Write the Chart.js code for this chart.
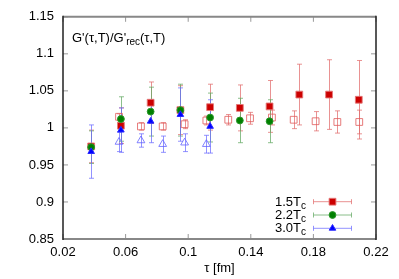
<!DOCTYPE html>
<html>
<head>
<meta charset="utf-8">
<script src="https://cdn.jsdelivr.net/npm/chart.js@4/dist/chart.umd.min.js"></script>
<style>
  html, body { margin: 0; padding: 0; background: #fff; }
</style>
</head>
<body>
<canvas id="chart" width="399" height="279"></canvas>
<script>
// tick values
const xTicks = [0.02, 0.06, 0.1, 0.14, 0.18, 0.22];
const yTicks = [0.85, 0.9, 0.95, 1, 1.05, 1.1, 1.15];

// coarse lattice tau values (filled symbols)
const tauCoarse = [0.038, 0.057, 0.076, 0.095, 0.114, 0.133, 0.152, 0.171, 0.190, 0.209];
// fine lattice tau values (open symbols)
const tauFine = [0.0558, 0.0698, 0.0837, 0.0977, 0.1116, 0.1256, 0.1395, 0.1535, 0.1674, 0.1814, 0.1953, 0.2093];

const ratio15 = [0.975, 1.003, 1.034, 1.024, 1.028, 1.027, 1.029, 1.045, 1.045, 1.038];
const err15 = [0.022, 0.024, 0.028, 0.033, 0.031, 0.031, 0.035, 0.041, 0.047, 0.053];

const ratio22 = [0.974, 1.012, 1.022, 1.024, 1.014, 1.010, 1.009];
const err22 = [0.022, 0.030, 0.033, 0.035, 0.033, 0.030, 0.029];

const ratio30 = [0.968, 0.997, 1.009, 1.018, 1.002];
const err30 = [0.036, 0.030, 0.029, 0.036, 0.036];

const ratio15Fine = [1.015, 1.002, 1.002, 1.005, 1.010, 1.011, 1.013, 1.014, 1.011, 1.009, 1.008, 1.008];
const err15Fine = [0.004, 0.005, 0.005, 0.006, 0.006, 0.007, 0.008, 0.010, 0.012, 0.013, 0.015, 0.016];

const ratio30Fine = [0.981, 0.983, 0.978, 0.980, 0.978];
const err30Fine = [0.013, 0.009, 0.011, 0.012, 0.012];

const FONT = '"Liberation Sans", Arial, sans-serif';

function points(xs, ys) {
  return ys.map((y, i) => ({ x: xs[i], y: y }));
}

const fmt = (v) => String(+Number(v).toFixed(2));

// vertical error bars, drawn under the symbols
const errorBars = {
  id: 'errorBars',
  beforeDatasetsDraw(chart) {
    const ctx = chart.ctx;
    const xs = chart.scales.x;
    const ys = chart.scales.y;
    chart.data.datasets.forEach((ds) => {
      if (!ds.errors) return;
      ctx.save();
      ctx.strokeStyle = ds.errorColor;
      ctx.lineWidth = 1;
      ds.data.forEach((p, j) => {
        const x = Math.round(xs.getPixelForValue(p.x)) + 0.5;
        const lo = ys.getPixelForValue(p.y - ds.errors[j]);
        const hi = ys.getPixelForValue(p.y + ds.errors[j]);
        ctx.beginPath();
        ctx.moveTo(x, lo); ctx.lineTo(x, hi);
        ctx.moveTo(x - 2.5, lo); ctx.lineTo(x + 2.5, lo);
        ctx.moveTo(x - 2.5, hi); ctx.lineTo(x + 2.5, hi);
        ctx.stroke();
      });
      ctx.restore();
    });
  }
};

// gnuplot style frame, inward ticks, inside label and key
const frame = {
  id: 'frame',
  afterDraw(chart) {
    const ctx = chart.ctx;
    const a = chart.chartArea;
    const xs = chart.scales.x;
    const ys = chart.scales.y;
    ctx.save();

    // ticks
    ctx.strokeStyle = '#999';
    ctx.lineWidth = 1;
    ctx.beginPath();
    yTicks.forEach((v) => {
      const y = ys.getPixelForValue(v);
      ctx.moveTo(a.left, y); ctx.lineTo(a.left + 5, y);
      ctx.moveTo(a.right, y); ctx.lineTo(a.right - 5, y);
    });
    xTicks.forEach((v) => {
      const x = xs.getPixelForValue(v);
      ctx.moveTo(x, a.bottom); ctx.lineTo(x, a.bottom - 5);
      ctx.moveTo(x, a.top); ctx.lineTo(x, a.top + 5);
    });
    ctx.stroke();

    // border
    ctx.lineWidth = 2;
    ctx.strokeStyle = '#888';
    ctx.beginPath();
    ctx.moveTo(a.left, a.top); ctx.lineTo(a.right, a.top);
    ctx.moveTo(a.left, a.bottom); ctx.lineTo(a.right, a.bottom);
    ctx.stroke();
    ctx.strokeStyle = '#222';
    ctx.lineWidth = 1.5;
    ctx.beginPath();
    ctx.moveTo(a.left, a.top - 1); ctx.lineTo(a.left, a.bottom + 1);
    ctx.moveTo(a.right, a.top - 1); ctx.lineTo(a.right, a.bottom + 1);
    ctx.stroke();

    // inside label G'(τ,T)/G'rec(τ,T)
    ctx.fillStyle = '#000';
    ctx.textBaseline = 'alphabetic';
    ctx.textAlign = 'left';
    let x = 72;
    const base = 41.7;
    ctx.font = '13px ' + FONT;
    ctx.fillText("G'(τ,T)/G'", x, base);
    x += ctx.measureText("G'(τ,T)/G'").width;
    ctx.font = '10px ' + FONT;
    ctx.fillText('rec', x, base + 3.5);
    x += ctx.measureText('rec').width;
    ctx.font = '13px ' + FONT;
    ctx.fillText('(τ,T)', x, base);

    // key
    const rows = chart.data.datasets.filter((d) => d.keyLabel);
    rows.forEach((ds, i) => {
      const cy = 201.7 + i * 13.3;
      ctx.font = '10px ' + FONT;
      const subW = ctx.measureText('c').width;
      ctx.font = '13px ' + FONT;
      ctx.textAlign = 'right';
      ctx.fillStyle = '#000';
      ctx.fillText(ds.keyLabel, 306 - subW, cy + 4);
      ctx.font = '10px ' + FONT;
      ctx.textAlign = 'left';
      ctx.fillText('c', 306 - subW, cy + 6.8);

      ctx.strokeStyle = ds.errorColor;
      ctx.lineWidth = 1;
      ctx.beginPath();
      ctx.moveTo(313.5, cy); ctx.lineTo(351.5, cy);
      ctx.moveTo(313.5, cy - 2.5); ctx.lineTo(313.5, cy + 2.5);
      ctx.moveTo(351.5, cy - 2.5); ctx.lineTo(351.5, cy + 2.5);
      ctx.stroke();

      ctx.fillStyle = ds.backgroundColor;
      ctx.strokeStyle = ds.borderColor;
      ctx.lineWidth = ds.borderWidth;
      Chart.helpers.drawPoint(ctx, {
        pointStyle: ds.pointStyle,
        radius: ds.pointRadius,
        borderWidth: ds.borderWidth,
        rotation: 0
      }, 332.5, cy);
    });

    ctx.restore();
  }
};

new Chart(document.getElementById('chart'), {
  type: 'scatter',
  data: {
    datasets: [
      {
        data: points(tauFine, ratio15Fine),
        errors: err15Fine,
        errorColor: 'rgba(225,110,110,0.75)',
        pointStyle: 'rect',
        pointRadius: 4.8,
        backgroundColor: 'rgba(255,255,255,0)',
        borderColor: 'rgba(225,90,90,0.8)',
        borderWidth: 1,
        order: 6
      },
      {
        data: points(tauFine, ratio30Fine),
        errors: err30Fine,
        errorColor: 'rgba(110,110,255,0.75)',
        pointStyle: 'triangle',
        pointRadius: 4.5,
        backgroundColor: 'rgba(255,255,255,0)',
        borderColor: 'rgba(100,100,255,0.8)',
        borderWidth: 1,
        order: 5
      },
      {
        keyLabel: '1.5T',
        data: points(tauCoarse, ratio15),
        errors: err15,
        errorColor: 'rgba(225,110,110,0.75)',
        pointStyle: 'rect',
        pointRadius: 4.8,
        backgroundColor: 'rgb(204,0,0)',
        borderColor: 'rgba(230,120,120,0.9)',
        borderWidth: 1,
        order: 4
      },
      {
        keyLabel: '2.2T',
        data: points(tauCoarse, ratio22),
        errors: err22,
        errorColor: 'rgba(100,170,100,0.75)',
        pointStyle: 'circle',
        pointRadius: 3.4,
        backgroundColor: 'rgb(0,128,0)',
        borderColor: 'rgb(40,150,40)',
        borderWidth: 1,
        order: 3
      },
      {
        keyLabel: '3.0T',
        data: points(tauCoarse, ratio30),
        errors: err30,
        errorColor: 'rgba(110,110,255,0.75)',
        pointStyle: 'triangle',
        pointRadius: 3.8,
        backgroundColor: 'rgb(0,0,255)',
        borderColor: 'rgb(40,40,255)',
        borderWidth: 1,
        order: 2
      }
    ]
  },
  options: {
    responsive: false,
    animation: false,
    layout: { padding: { top: 16, right: 23, left: 0, bottom: 0 } },
    plugins: {
      legend: { display: false },
      tooltip: { enabled: false }
    },
    scales: {
      x: {
        type: 'linear',
        min: 0.02,
        max: 0.22,
        grid: { display: false, drawTicks: false },
        border: { display: false },
        afterBuildTicks: (s) => { s.ticks = xTicks.map((v) => ({ value: v })); },
        afterFit: (s) => { s.height = 40; },
        ticks: {
          color: '#000',
          padding: 6,
          maxRotation: 0,
          font: { family: FONT, size: 13 },
          callback: fmt
        },
        title: {
          display: true,
          text: 'τ [fm]',
          color: '#000',
          font: { family: FONT, size: 13 },
          padding: { top: 0, bottom: 3 }
        }
      },
      y: {
        type: 'linear',
        min: 0.85,
        max: 1.15,
        grid: { display: false, drawTicks: false },
        border: { display: false },
        afterBuildTicks: (s) => { s.ticks = yTicks.map((v) => ({ value: v })); },
        afterFit: (s) => { s.width = 63; },
        ticks: {
          color: '#000',
          padding: 9,
          font: { family: FONT, size: 13 },
          callback: fmt
        }
      }
    }
  },
  plugins: [errorBars, frame]
});
</script>
</body>
</html>
